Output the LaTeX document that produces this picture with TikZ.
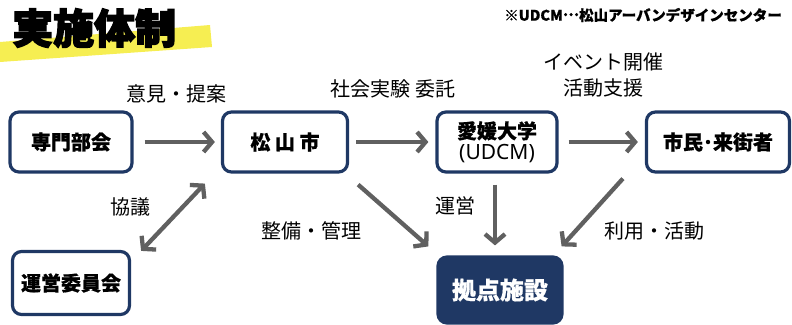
\documentclass[tikz,border=0pt]{standalone}
\usepackage{fontspec}
\setmainfont{Noto Sans CJK JP}[BoldFeatures={FakeBold=0.6}]
\newfontfamily\titlef{Noto Sans CJK JP}[BoldFeatures={FakeBold=3.5}]
\newfontfamily\latinf{Noto Sans}
\usetikzlibrary{arrows.meta,calc}
\definecolor{navy}{HTML}{1F3864}
\definecolor{arrgray}{HTML}{606060}
\definecolor{hilite}{HTML}{F6EE52}
\begin{document}
\begin{tikzpicture}[x=1pt,y=-1pt,
  box/.style={draw=navy,line width=3.2pt,rounded corners=9pt,fill=white,align=center,
    font=\fontsize{20}{23}\selectfont\bfseries,inner sep=0pt},
  lbl/.style={font=\fontsize{20}{26}\selectfont,align=center,inner sep=0pt},
  arr/.style={draw=arrgray,line width=4.3pt,-{Straight Barb[length=8.5pt,width=20pt]}},
  darr/.style={draw=arrgray,line width=4.3pt,{Straight Barb[length=8.5pt,width=20pt]}-{Straight Barb[length=8.5pt,width=20pt]}}]
\useasboundingbox (0,0) rectangle (792,324);
% title highlight
\fill[hilite] (0,42) -- (210,25) -- (212,47) -- (0,62) -- cycle;
\node[anchor=west,inner sep=0pt,font=\fontsize{41}{43}\selectfont\titlef\bfseries] (title) at (12,28) {実施体制};
\node[anchor=east,inner sep=0pt,font=\fontsize{14.5}{16}\selectfont\bfseries] (note) at (782,15) {※UDCM\raisebox{0.32em}{…}松山アーバンデザインセンター};
% boxes
\node[box,minimum width=122pt,minimum height=60pt] (sen) at (71,142) {専門部会};
\node[box,minimum width=125pt,minimum height=60pt] (ms) at (285,142) {松 山 市};
\node[box,minimum width=120pt,minimum height=60pt] (ud) at (497,142) {愛媛大学\\[-2pt]{\latinf\fontsize{21}{23}\selectfont (UDCM)}};
\node[box,minimum width=143pt,minimum height=60pt] (shi) at (718,142) {市民･来街者};
\node[box,minimum width=117pt,minimum height=63pt] (un) at (71,283) {運営委員会};
\node[box,fill=navy,text=white,minimum width=124pt,minimum height=66pt,font=\fontsize{24}{26}\selectfont\bfseries] (kyo) at (500,290) {拠点施設};
% arrows
\draw[arr,shorten <=11pt,shorten >=6pt] (sen.east) -- (ms.west);
\draw[arr,shorten <=7pt,shorten >=7pt] (ms.east) -- (ud.west);
\draw[arr,shorten <=10pt,shorten >=7pt] (ud.east) -- (shi.west);
\draw[darr] ($(un.north east)+(10,1)$) -- ($(ms.south west)+(-16,10)$);
\draw[arr] ($(ms.south east)+(9,11)$) -- ($(kyo.north west)+(-8,-9)$);
\draw[arr] ($(ud.south)+(-2,11)$) -- ($(kyo.north)+(-5,-10)$);
\draw[arr] ($(shi.south west)+(-22,5)$) -- ($(kyo.north east)+(-2,-9)$);
% labels
\node[lbl] (l1) at (176,94) {意見・提案};
\node[lbl] (l2) at (393,89) {社会実験 委託};
\node[lbl] (l3) at (603,75) {イベント開催\\活動支援};
\node[lbl] (l4) at (130,207) {協議};
\node[lbl] (l5) at (311,231) {整備・管理};
\node[lbl] (l6) at (455,206) {運営};
\node[lbl] (l7) at (654,231) {利用・活動};
\end{tikzpicture}
\end{document}
